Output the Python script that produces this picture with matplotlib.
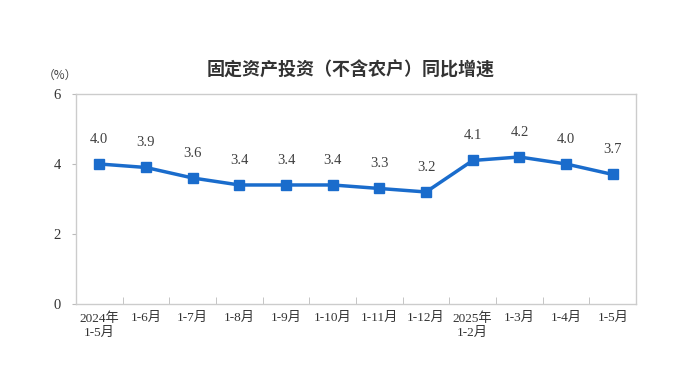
import matplotlib.pyplot as plt
import numpy as np

plt.rcParams['font.family'] = ['Liberation Serif', 'Noto Sans CJK SC', 'DejaVu Sans']

periods = ['2024年\n1-5月', '1-6月', '1-7月', '1-8月', '1-9月', '1-10月', '1-11月',
           '1-12月', '2025年\n1-2月', '1-3月', '1-4月', '1-5月']
growth = [4.0, 3.9, 3.6, 3.4, 3.4, 3.4, 3.3, 3.2, 4.1, 4.2, 4.0, 3.7]

blue = '#1a6ccc'
fig = plt.figure(figsize=(6.84, 3.79), dpi=100)
ax = fig.add_axes([0.111, 0.198, 0.819, 0.554])

x = np.arange(len(periods))
ax.plot(x, growth, color=blue, lw=2.5, marker='s', ms=7, zorder=3)
for xi, v in zip(x, growth):
    ax.annotate(f'{v:.1f}', (xi, v), xytext=(0, 13), textcoords='offset points',
                ha='center', va='bottom', fontsize=10.5, color='#404040')

ax.set_xlim(-0.5, len(periods) - 0.5)
ax.set_ylim(0, 6)
ax.set_yticks([0, 2, 4, 6])
ax.set_xticks(x)
ax.set_xticklabels(periods, fontsize=9.5, color='#333333', linespacing=1.25)
ax.set_xticks(np.arange(0.5, len(periods) - 1, 1), minor=True)
ax.tick_params(axis='x', which='major', length=0, pad=6)
ax.tick_params(axis='x', which='minor', length=5, direction='in', color='#bbbbbb')
ax.tick_params(axis='y', length=3, color='#bbbbbb', labelsize=10.5, labelcolor='#333333', pad=8)
for s in ax.spines.values():
    s.set_color('#cccccc')
    s.set_linewidth(1)

fig.text(0.513, 0.815, '固定资产投资（不含农户）同比增速', ha='center', va='center',
         fontsize=13, fontweight='bold', family=['Noto Sans CJK SC'], color='#333333')
fig.text(0.088, 0.802, '（%）', ha='center', va='center', fontsize=8.5,
         family=['Noto Sans CJK SC'], color='#444444')

plt.savefig('out.png', dpi=100, facecolor='w')
plt.close()
